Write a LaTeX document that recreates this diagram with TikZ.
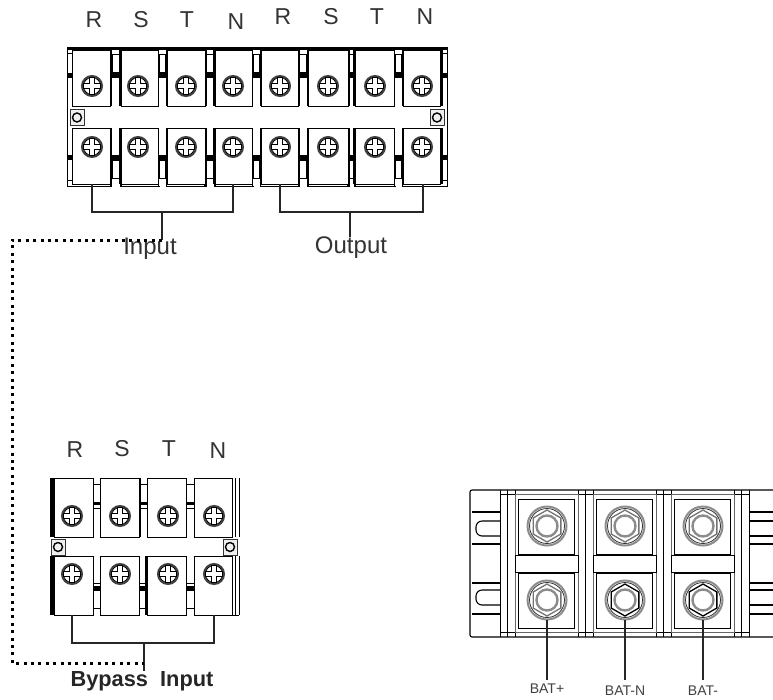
\documentclass[tikz,border=0pt]{standalone}
\usepackage{fontspec}
\setmainfont{Liberation Sans}
\usepackage{tikz}
\usetikzlibrary{positioning}
\tikzset{
  lug/.style={draw=black, line width=1pt, fill=white},
  wirestyle/.style={draw=black!85, line width=1.2pt},
  dotwire/.style={draw=black, line width=3pt, dash pattern=on 3pt off 4.4pt},
  letter/.style={inner sep=0pt, text=black!80, font=\fontsize{23}{26}\selectfont},
  caption/.style={inner sep=0pt, text=black!80, font=\fontsize{24}{27}\selectfont},
  bypasslabel/.style={inner sep=0pt, text=black!85, font=\fontsize{21.8}{25}\selectfont\bfseries},
  batlabel/.style={inner sep=0pt, text=black!75, font=\fontsize{14}{16}\selectfont},
  pics/screw/.style={code={
    \draw[black!75, line width=2pt] (0,0) circle (10);
    \draw[black, line width=.8pt] (0,0) circle (8.6);
    \draw[black, line width=1pt, fill=white] (-2.4,-8.4) -- (2.4,-8.4) -- (2.4,-2.4) -- (8.4,-2.4) -- (8.4,2.4) -- (2.4,2.4) -- (2.4,8.4) -- (-2.4,8.4) -- (-2.4,2.4) -- (-8.4,2.4) -- (-8.4,-2.4) -- (-2.4,-2.4) -- cycle;
  }},
  pics/nut/.style={code={
    \draw[black!45, line width=2pt] (0,0) circle (19.5);
    \draw[black!80, line width=.8pt] (0,0) circle (17.5);
    \draw[#1, line width=1.3pt] (90:16) -- (30:16) -- (-30:16) -- (-90:16) -- (-150:16) -- (150:16) -- cycle;
    \draw[black!45, line width=2.4pt] (0,0) circle (10.5);
  }},
  pics/mount/.style={code={
    \draw[black!80, line width=1pt, fill=black!6] (-7,-8) rectangle (7,8);
    \draw[black, line width=1.4pt] (0,0) circle (4.5);
  }}
}
\begin{document}
\begin{tikzpicture}[x=1pt,y=-1pt]
  \useasboundingbox (0,0) rectangle (773,699);
  % upper block
  \draw[black, line width=.8pt] (67.5,47) -- (447,47) -- (447,186) -- (67.5,186) -- cycle;
  \fill[white] (68,107) rectangle (446,127);
  \fill[black] (67.5,47) rectangle (447,50);
  \draw[black, line width=.8pt] (67.5,47) -- (67.5,186) (447,47) -- (447,186);
  \draw[black, line width=1pt] (72,50) -- (72,106) (72,128) -- (72,184);
  \draw[black, line width=2pt] (442,50) -- (442,106) (442,128) -- (442,184);
  \fill[black] (68,73) rectangle (72,78);
  \fill[black] (68,155) rectangle (72,160);
  \fill[black] (442,73) rectangle (447,78);
  \fill[black] (442,155) rectangle (447,160);
  \draw[black, line width=1pt] (68,180) -- (72,180) (442,180) -- (447,180) (68,53) -- (72,53) (442,53) -- (447,53);
  \foreach \xa/\xb/\wd in {110.5/121/2.4, 158/167/.9, 205/215/2.4, 252/261/.9, 298/308/2, 348/355/2.4, 394/403/.9}{
    \fill[black] (\xa,72) rectangle (\xb,78);
    \fill[black] (\xa,155) rectangle (\xb,160);
    \draw[black, line width=.9pt] (\xa+1.5,54) rectangle (\xb-1.5,72);
    \draw[black, line width=.9pt] (\xa+1.5,160) rectangle (\xb-1.5,178);
    \draw[black, line width=\wd pt] (\xa+.5,50) -- (\xa+.5,106) (\xb-.5,50) -- (\xb-.5,106);
    \draw[black, line width=\wd pt] (\xa+.5,128) -- (\xa+.5,186) (\xb-.5,128) -- (\xb-.5,186);
    \fill[white] (\xa+1.5,183.5) rectangle (\xb-1.5,187);
  }
  \foreach \xa/\xb/\xc in {72/110.5/92, 121/158/138, 167/205/186, 215/252/233, 261/298/280, 308/348/328, 355/394/375, 403/440/422}{
    \draw[lug] (\xa,50) rectangle (\xb,106);
    \draw[lug] (\xa,128) rectangle (\xb,184);
    \pic at (\xc,86) {screw};
    \pic at (\xc,147) {screw};
  }
  \pic at (77,117.5) {mount};
  \pic at (437,117.5) {mount};

  % bypass block
  \fill[black] (50,478) rectangle (54,537);
  \fill[black] (50,556) rectangle (54,615);
  \draw[black, line width=1pt] (235,478) -- (235,537) (239,478) -- (239,537) (235,556) -- (235,615) (239,556) -- (239,615) (232,615) -- (239,615);
  \foreach \xa/\xb in {93/100, 139/147, 186/194}{
    \draw[black, line width=.9pt] (\xa,484) rectangle (\xb,502);
    \fill[black] (\xa,502) rectangle (\xb,505);
    \draw[black, line width=.9pt] (\xa,508) -- (\xb,508);
    \fill[black] (\xa,586) rectangle (\xb,590);
    \draw[black, line width=.9pt] (\xa,583) -- (\xb,583);
    \draw[black, line width=.9pt] (\xa,590) rectangle (\xb,608);
  }
  \draw[black, line width=2.4pt] (140,478) -- (140,537) (146,556) -- (146,615);
  \foreach \xa/\xb/\xc in {54/93/72, 100/139/120, 147/186/168, 194/232/214}{
    \draw[lug] (\xa,478) rectangle (\xb,537);
    \draw[lug] (\xa,556) rectangle (\xb,615);
    \pic at (\xc,516) {screw};
    \pic at (\xc,574) {screw};
  }
  \pic at (58,547) {mount};
  \pic at (230,547) {mount};

  % battery block
  \draw[black, line width=1.1pt, rounded corners=2pt] (773,490) -- (470,490) -- (470,637) -- (773,637);
  \foreach \ya/\yb/\yc/\yd in {512/521/536/544, 583/590/605/614}{
    \draw[black, line width=1.1pt] (472,\ya) -- (500,\ya) (472,\yd) -- (500,\yd);
    \draw[black, line width=1.1pt, rounded corners=6pt] (500,\yb) -- (476,\yb) -- (476,\yc) -- (500,\yc);
    \draw[black, line width=1.1pt] (749,\ya) -- (773,\ya) (749,\yd) -- (773,\yd);
    \draw[black, line width=1.1pt] (749,\yb) -- (773,\yb) (749,\yc) -- (773,\yc);
  }
  \foreach \xa in {500,578,656,734}{
    \draw[black, line width=1pt] (\xa,490) -- (\xa,637) (\xa+7.5,490) -- (\xa+7.5,637) (\xa+15,490) -- (\xa+15,637);
    \draw[black, line width=1pt] (\xa,494) -- (\xa+15,494) (\xa,632) -- (\xa+15,632);
  }
  \foreach \xa/\xc/\colb in {515/547/black!55, 593/625/black, 671/703/black}{
    \draw[black!60, line width=.8pt] (\xa+.5,494) rectangle (\xa+63,632);
    \draw[black, line width=1pt] (\xa+3,499) rectangle (\xa+59,554);
    \draw[black, line width=1pt] (\xa+3,573) rectangle (\xa+59,628);
    \draw[black, line width=1pt, fill=white] (\xa,555) rectangle (\xa+63,572);
    \pic at (\xc,526) {nut=black!55};
    \pic at (\xc,600) {nut=\colb};
  }

  % labels
  \node[letter] (r1) at (94,20) {R};
  \node[letter] (s1) at (141,20) {S};
  \node[letter] (t1) at (187,20) {T};
  \node[letter] (n1) at (236,22) {N};
  \node[letter] (r2) at (283,17) {R};
  \node[letter] (s2) at (331,17) {S};
  \node[letter] (t2) at (377,17) {T};
  \node[letter] (n2) at (425,17) {N};
  \node[letter] (r3) at (75,450) {R};
  \node[letter] (s3) at (122,449) {S};
  \node[letter] (t3) at (169,449) {T};
  \node[letter] (n3) at (218,451) {N};
  \node[caption] (input) at (150,249) {Input};
  \node[caption] (output) at (351,248) {Output};
  \node[bypasslabel] (bypass) at (142,681) {Bypass\ \ Input};
  \node[batlabel] (batp) at (547,689) {BAT+};
  \node[batlabel] (batn) at (625,691) {BAT-N};
  \node[batlabel] (batm) at (703,691) {BAT-};

  % wiring
  \coordinate (inL) at (92,184);
  \coordinate (inR) at (233,184);
  \coordinate (inM) at (162,212);
  \coordinate (inE) at (162,240);
  \coordinate (outL) at (280,184);
  \coordinate (outR) at (423,184);
  \coordinate (outM) at (350,212);
  \coordinate (byL) at (72,615);
  \coordinate (byR) at (214,615);
  \coordinate (byM) at (144,643);
  \coordinate (byE) at (144,663);
  \coordinate (dotA) at (12,240);
  \coordinate (dotB) at (12,663);
  \draw[wirestyle] (inL) -- (inL |- inM) -- (inR |- inM) -- (inR);
  \draw[wirestyle] (inM) -- (inE);
  \draw[wirestyle] (outL) -- (outL |- outM) -- (outR |- outM) -- (outR);
  \draw[wirestyle] (outM) -- (output.north -| outM);
  \draw[wirestyle] (byL) -- (byL |- byM) -- (byR |- byM) -- (byR);
  \draw[wirestyle] (byM) -- (bypass.north -| byM);
  \draw[dotwire] (inE) -- (dotA) -- (dotB) -- (byE);
  \foreach \xc/\lab in {547/batp, 625/batn, 703/batm}{
    \coordinate (nut\lab) at (\xc,620);
    \draw[wirestyle] (nut\lab) -- (\xc,680);
  }
\end{tikzpicture}
\end{document}
